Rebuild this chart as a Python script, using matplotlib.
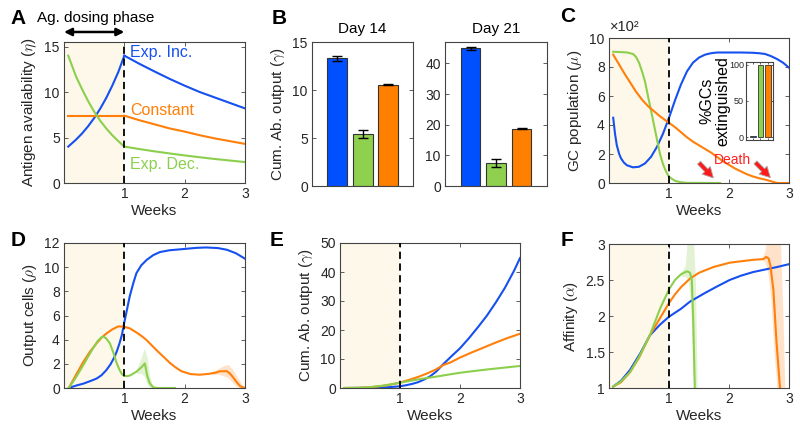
import matplotlib
matplotlib.use("Agg")
import matplotlib.pyplot as plt
import numpy as np

plt.rcParams['font.family'] = ['Liberation Sans', 'DejaVu Sans']
plt.rcParams['mathtext.fontset'] = 'cm'

# ---------------- colours ----------------
BLUE = '#1650f0'
ORANGE = '#ff7f0a'
GREEN = '#8ccf4d'
BAR_BLUE = '#0050ff'
BAR_GREEN = '#8fd14f'
BAR_ORANGE = '#ff8000'
SHADE = '#fdf8ea'
TXT = '#262626'

# ---------------- data: panel A ----------------
tA_pre = [0.07, 0.2, 0.3, 0.4, 0.5, 0.6, 0.7, 0.8, 0.9, 1.0]
incA_pre = [4.0, 4.77, 5.45, 6.24, 7.14, 8.17, 9.35, 10.7, 12.2, 14.0]
constA_pre = [7.4, 7.4, 7.4, 7.4, 7.4, 7.4, 7.4, 7.4, 7.4, 7.4]
decA_pre = [14.0, 11.7, 10.3, 9.0, 7.85, 6.85, 6.0, 5.25, 4.6, 4.0]
tA_post = [1.0, 1.25, 1.5, 1.75, 2.0, 2.25, 2.5, 2.75, 3.0]
incA_post = [14.0, 13.1, 12.26, 11.45, 10.7, 10.0, 9.4, 8.8, 8.2]
constA_post = [7.4, 6.9, 6.45, 6.0, 5.65, 5.25, 4.9, 4.6, 4.3]
decA_post = [4.0, 3.73, 3.48, 3.25, 3.03, 2.83, 2.64, 2.47, 2.3]
labelsA = ['Exp. Inc.', 'Constant', 'Exp. Dec.']

# ---------------- data: panel B ----------------
day14_vals = [13.3, 5.43, 10.57]
day14_err = [0.27, 0.45, 0.1]
day21_vals = [44.9, 7.65, 18.7]
day21_err = [0.5, 1.3, 0.15]

# ---------------- data: panel C ----------------
tC_blue = [0.07, 0.1, 0.13, 0.17, 0.2, 0.25, 0.3, 0.4, 0.5, 0.6, 0.7, 0.8, 0.9, 1.0, 1.1, 1.2,
           1.3, 1.4, 1.5, 1.6, 1.7, 1.8, 2.0, 2.2, 2.4, 2.5, 2.6, 2.7, 2.8, 2.9, 3.0]
C_blue = [4.5, 3.4, 2.6, 2.0, 1.7, 1.4, 1.22, 1.08, 1.12, 1.35, 1.8, 2.5, 3.4, 4.5, 5.7, 6.8,
          7.7, 8.3, 8.65, 8.85, 8.95, 9.0, 9.0, 9.0, 8.98, 8.95, 8.9, 8.75, 8.55, 8.3, 7.95]
tC_green = [0.07, 0.2, 0.3, 0.4, 0.45, 0.5, 0.55, 0.6, 0.65, 0.7, 0.75, 0.8, 0.85, 0.9, 0.95,
            1.0, 1.1, 1.2, 1.3, 1.85]
C_green = [9.05, 9.03, 9.0, 8.9, 8.7, 8.3, 7.7, 7.0, 6.0, 5.0, 4.0, 3.0, 2.0, 1.3, 0.8,
           0.42, 0.15, 0.05, 0.01, 0.0]
tC_orange = [0.07, 0.15, 0.25, 0.35, 0.45, 0.55, 0.65, 0.75, 0.85, 0.95, 1.0, 1.1, 1.2, 1.3,
             1.4, 1.5, 1.6, 1.7, 1.8, 1.9, 2.0, 2.1, 2.2, 2.3, 2.4, 2.5, 2.6, 2.7, 2.8, 3.0]
C_orange = [8.85, 8.3, 7.6, 6.95, 6.3, 5.75, 5.3, 4.95, 4.6, 4.3, 4.15, 3.85, 3.5, 3.15,
            2.85, 2.6, 2.35, 2.1, 1.8, 1.5, 1.25, 1.0, 0.8, 0.6, 0.45, 0.33, 0.24, 0.12, 0.0, 0.0]
inset_vals = [2, 100, 100]
death_tails = [(1.5, 1.4), (2.44, 1.42)]
death_heads = [(1.74, 0.35), (2.69, 0.37)]

# ---------------- data: panel D ----------------
tD_blue = [0.08, 0.2, 0.32, 0.45, 0.54, 0.62, 0.7, 0.77, 0.84, 0.88, 0.92, 0.96, 0.99, 1.04,
           1.09, 1.15, 1.2, 1.28, 1.37, 1.48, 1.59, 1.75, 1.98, 2.2, 2.36, 2.55, 2.7, 2.85, 3.0]
D_blue = [0.0, 0.2, 0.36, 0.6, 0.78, 1.05, 1.47, 1.95, 2.6, 3.1, 3.7, 4.4, 5.2, 6.4,
          7.6, 8.7, 9.5, 10.15, 10.6, 11.0, 11.25, 11.4, 11.5, 11.6, 11.63, 11.58, 11.44, 11.15, 10.7]
tD_orange = [0.08, 0.2, 0.32, 0.43, 0.54, 0.62, 0.7, 0.8, 0.9, 0.99, 1.09, 1.2, 1.3, 1.37,
             1.45, 1.55, 1.65, 1.75, 1.85, 1.95, 2.1, 2.25, 2.4, 2.52, 2.58, 2.7, 2.75, 2.8,
             2.86, 2.92, 3.0]
D_orange = [0.0, 1.1, 2.16, 3.0, 3.7, 4.15, 4.5, 4.85, 5.1, 5.07, 4.94, 4.6, 4.25, 3.96,
            3.55, 3.05, 2.58, 2.1, 1.7, 1.38, 1.15, 1.1, 1.17, 1.28, 1.38, 1.39, 1.2, 0.9,
            0.5, 0.15, 0.0]
tD_orange_band = [2.45, 2.55, 2.65, 2.72, 2.8, 2.9, 2.95]
D_orange_hi = [1.3, 1.6, 1.85, 1.95, 1.5, 0.7, 0.3]
D_orange_lo = [1.1, 1.15, 1.0, 0.85, 0.4, 0.0, 0.0]
tD_green = [0.08, 0.2, 0.32, 0.4, 0.48, 0.56, 0.62, 0.66, 0.7, 0.76, 0.82, 0.87, 0.92, 0.96,
            1.0, 1.05, 1.1, 1.2, 1.28, 1.34, 1.38, 1.42, 1.48, 1.55, 1.84]
D_green = [0.0, 0.9, 1.9, 2.6, 3.27, 3.9, 4.2, 4.24, 4.1, 3.7, 2.9, 2.1, 1.5, 1.15,
           1.0, 0.98, 1.05, 1.35, 1.7, 2.03, 1.0, 0.4, 0.05, 0.0, 0.0]
tD_green_band = [1.2, 1.28, 1.33, 1.38, 1.42, 1.47]
D_green_hi = [1.5, 2.5, 3.3, 2.5, 1.0, 0.2]
D_green_lo = [1.2, 1.2, 1.0, 0.3, 0.0, 0.0]

# ---------------- data: panel E ----------------
tE_blue = [0.07, 0.5, 0.8, 1.0, 1.1, 1.2, 1.3, 1.4, 1.5, 1.6, 1.72, 1.85, 2.0, 2.15, 2.3,
           2.45, 2.6, 2.75, 2.9, 3.0]
E_blue = [0.0, 0.05, 0.25, 0.6, 0.95, 1.4, 2.0, 2.9, 4.0, 5.6, 8.2, 10.8, 13.7, 17.2, 21.0,
          25.0, 29.6, 34.6, 40.4, 44.8]
tE_orange = [0.07, 0.3, 0.5, 0.7, 0.85, 1.0, 1.15, 1.3, 1.45, 1.6, 1.72, 1.85, 2.0, 2.2,
             2.4, 2.6, 2.8, 3.0]
E_orange = [0.0, 0.05, 0.25, 0.7, 1.2, 1.9, 2.8, 3.8, 5.0, 6.4, 7.9, 8.9, 10.5, 12.3,
            14.0, 15.7, 17.3, 18.7]
tE_green = [0.07, 0.3, 0.5, 0.7, 0.85, 1.0, 1.15, 1.3, 1.45, 1.6, 1.8, 2.0, 2.25, 2.5,
            2.75, 3.0]
E_green = [0.0, 0.05, 0.3, 0.75, 1.25, 1.8, 2.4, 2.95, 3.45, 3.9, 4.6, 5.25, 5.9, 6.5,
           7.05, 7.6]

# ---------------- data: panel F ----------------
tF_blue = [0.07, 0.2, 0.35, 0.52, 0.68, 0.85, 1.0, 1.2, 1.35, 1.6, 1.8, 2.01, 2.2, 2.4,
           2.57, 2.8, 3.0]
F_blue = [1.02, 1.1, 1.25, 1.48, 1.73, 1.88, 1.99, 2.1, 2.2, 2.32, 2.41, 2.5, 2.56, 2.61,
          2.64, 2.68, 2.72]
tF_orange = [0.07, 0.2, 0.35, 0.5, 0.68, 0.85, 1.0, 1.1, 1.2, 1.35, 1.5, 1.74, 2.01, 2.2,
             2.4, 2.57, 2.62, 2.66, 2.69, 2.74, 2.79, 2.85]
F_orange = [1.02, 1.08, 1.22, 1.42, 1.73, 1.97, 2.18, 2.3, 2.4, 2.52, 2.6, 2.68, 2.74, 2.76,
            2.78, 2.79, 2.82, 2.8, 2.7, 2.36, 1.66, 1.0]
tF_orange_band = [2.55, 2.6, 2.65, 2.7, 2.75, 2.8, 2.85, 2.9, 2.93]
F_orange_hi = [2.8, 2.9, 3.2, 3.2, 3.2, 3.2, 3.2, 2.0, 1.0]
F_orange_lo = [2.78, 2.75, 2.6, 2.2, 1.5, 1.0, 0.9, 0.9, 1.0]
tF_green = [0.07, 0.2, 0.35, 0.5, 0.68, 0.85, 1.0, 1.1, 1.2, 1.27, 1.31, 1.35, 1.38, 1.405, 1.43]
F_green = [1.02, 1.09, 1.22, 1.43, 1.73, 2.1, 2.37, 2.5, 2.58, 2.61, 2.62, 2.6, 2.5, 1.9, 1.0]
tF_green_band = [1.2, 1.27, 1.32, 1.36, 1.4, 1.44, 1.47]
F_green_hi = [2.6, 2.7, 3.2, 3.2, 3.2, 2.5, 1.0]
F_green_lo = [2.55, 2.55, 2.5, 2.2, 1.2, 1.0, 1.0]

# ---------------- figure ----------------
W, H = 800, 432
fig = plt.figure(figsize=(8, 4.32), dpi=100)


def ax_px(l, t, r, b):
    return fig.add_axes([l / W, 1 - b / H, (r - l) / W, (b - t) / H])


def style(ax, labelsize=10):
    for s in ax.spines.values():
        s.set_color('#444444')
        s.set_linewidth(0.8)
    ax.tick_params(direction='in', top=True, right=True, length=3, width=0.6,
                   color='#444444', labelsize=labelsize, labelcolor=TXT, pad=3)


def time_axes(ax, ylim, yticks, yticklabels=None):
    ax.set_xlim(0, 3)
    ax.set_ylim(*ylim)
    ax.set_xticks([1, 2, 3])
    ax.set_yticks(yticks)
    if yticklabels is not None:
        ax.set_yticklabels(yticklabels)
    ax.axvspan(0, 1, color=SHADE, zorder=0, lw=0)
    ax.axvline(1, color='k', ls=(0, (4, 2.5)), lw=1.3, zorder=5)
    ax.set_xlabel('Weeks', fontsize=11, color=TXT, labelpad=2)
    style(ax)


LW = 1.5

# ---- A ----
axA = ax_px(64, 42, 245, 183)
time_axes(axA, (0, 15.5), [0, 5, 10, 15])
axA.plot(tA_pre, incA_pre, color=BLUE, lw=LW)
axA.plot(tA_post, incA_post, color=BLUE, lw=LW)
axA.plot(tA_pre, constA_pre, color=ORANGE, lw=LW)
axA.plot(tA_post, constA_post, color=ORANGE, lw=LW)
axA.plot(tA_pre, decA_pre, color=GREEN, lw=LW)
axA.plot(tA_post, decA_post, color=GREEN, lw=LW)
axA.text(1.09, 14.35, labelsA[0], color=BLUE, fontsize=11.5, va='center')
axA.text(1.09, 7.93, labelsA[1], color=ORANGE, fontsize=11.5, va='center')
axA.text(1.09, 2.06, labelsA[2], color=GREEN, fontsize=11.5, va='center')
axA.set_ylabel(r'Antigen availability ($\eta$)', fontsize=11, color=TXT)
axA.annotate('', xy=(1, 1.071), xytext=(0, 1.071), xycoords=axA.get_xaxis_transform(),
             textcoords=axA.get_xaxis_transform(), annotation_clip=False,
             arrowprops=dict(arrowstyle='<|-|>', color='k', lw=1.8, mutation_scale=11,
                             shrinkA=0, shrinkB=0))
fig.text(96 / W, 1 - 18 / H, 'Ag. dosing phase', fontsize=11, ha='center', va='center',
         color='k')

# ---- B ----
bar_x = [1, 2, 3]
bar_cols = [BAR_BLUE, BAR_GREEN, BAR_ORANGE]
axB1 = ax_px(312, 42, 413, 186)
axB1.bar(bar_x, day14_vals, width=0.78, color=bar_cols, edgecolor='#333333', lw=0.8,
         yerr=day14_err, capsize=3.5, error_kw=dict(elinewidth=1.0, capthick=1.0, ecolor='k'))
axB1.set_xlim(0, 3.98)
axB1.set_ylim(0, 15)
axB1.set_yticks([0, 5, 10, 15])
axB1.set_xticks(bar_x)
axB1.set_xticklabels([])
style(axB1)
axB1.tick_params(axis='x', length=0)
axB1.set_ylabel(r'Cum. Ab. output ($\gamma$)', fontsize=11, color=TXT)
axB1.text(0.5, 1 + 13 / 144, 'Day 14', transform=axB1.transAxes, ha='center', va='center',
          fontsize=11, color='k')

axB2 = ax_px(445, 42, 547, 186)
axB2.bar(bar_x, day21_vals, width=0.78, color=bar_cols, edgecolor='#333333', lw=0.8,
         yerr=day21_err, capsize=3.5, error_kw=dict(elinewidth=1.0, capthick=1.0, ecolor='k'))
axB2.set_xlim(0, 4.0)
axB2.set_ylim(0, 47)
axB2.set_yticks([0, 10, 20, 30, 40])
axB2.set_xticks(bar_x)
axB2.set_xticklabels([])
style(axB2)
axB2.tick_params(axis='x', length=0)
axB2.text(0.5, 1 + 13 / 144, 'Day 21', transform=axB2.transAxes, ha='center', va='center',
          fontsize=11, color='k')

# ---- C ----
axC = ax_px(609, 38, 789, 183)
time_axes(axC, (0, 10), [0, 2, 4, 6, 8, 10])
axC.plot(tC_blue, C_blue, color=BLUE, lw=LW)
axC.plot(tC_green, C_green, color=GREEN, lw=LW)
axC.plot(tC_orange, C_orange, color=ORANGE, lw=LW)
axC.set_ylabel(r'GC population ($\mu$)', fontsize=11, color=TXT)
axC.text(0.005, 1.076, '×10²', transform=axC.transAxes, fontsize=10.5, ha='left',
         va='center', color=TXT)
for (tx, ty), (hx, hy) in zip(death_tails, death_heads):
    axC.annotate('', xy=(hx, hy), xytext=(tx, ty),
                 arrowprops=dict(arrowstyle='simple,head_width=0.8,head_length=0.75,tail_width=0.3',
                                 fc='#ff1a1a', ec='#a8a8a8', lw=0.6, shrinkA=0, shrinkB=0),
                 zorder=6)
axC.text(2.06, 1.62, 'Death', color='#ff2020', fontsize=10, ha='center', va='center')

axI = ax_px(746, 62, 773, 140)
axI.bar(bar_x, inset_vals, width=0.75, color=bar_cols, edgecolor='#333333', lw=0.6)
axI.set_xlim(0.1, 3.65)
axI.set_ylim(-4, 104)
axI.set_yticks([0, 50, 100])
axI.set_xticks(bar_x)
axI.set_xticklabels([])
style(axI, labelsize=6.5)
axI.tick_params(length=1.5, pad=1.5)
fig.text(715 / W, 1 - 101 / H, '%GCs\nextinguished', rotation=90, fontsize=11.5,
         ha='center', va='center', multialignment='center', color='k', linespacing=1.05)

# ---- D ----
axD = ax_px(64, 243, 245, 388)
time_axes(axD, (0, 12), [0, 2, 4, 6, 8, 10, 12])
axD.fill_between(tD_orange_band, D_orange_lo, D_orange_hi, color=ORANGE, alpha=0.22, lw=0)
axD.fill_between(tD_green_band, D_green_lo, D_green_hi, color=GREEN, alpha=0.25, lw=0)
axD.plot(tD_blue, D_blue, color=BLUE, lw=LW)
axD.plot(tD_orange, D_orange, color=ORANGE, lw=LW)
axD.plot(tD_green, D_green, color=GREEN, lw=LW)
axD.set_ylabel(r'Output cells ($\rho$)', fontsize=11, color=TXT)

# ---- E ----
axE = ax_px(340, 243, 520, 388)
time_axes(axE, (0, 50), [0, 10, 20, 30, 40, 50])
axE.plot(tE_blue, E_blue, color=BLUE, lw=LW)
axE.plot(tE_orange, E_orange, color=ORANGE, lw=LW)
axE.plot(tE_green, E_green, color=GREEN, lw=LW)
axE.set_ylabel(r'Cum. Ab. output ($\gamma$)', fontsize=11, color=TXT)

# ---- F ----
axF = ax_px(609, 244, 789, 388)
time_axes(axF, (1, 3), [1, 1.5, 2, 2.5, 3], ['1', '1.5', '2', '2.5', '3'])
axF.fill_between(tF_orange_band, F_orange_lo, F_orange_hi, color=ORANGE, alpha=0.22, lw=0)
axF.fill_between(tF_green_band, F_green_lo, F_green_hi, color=GREEN, alpha=0.25, lw=0)
axF.plot(tF_blue, F_blue, color=BLUE, lw=LW)
axF.plot(tF_orange, F_orange, color=ORANGE, lw=LW)
axF.plot(tF_green, F_green, color=GREEN, lw=LW)
axF.set_ylabel(r'Affinity ($\alpha$)', fontsize=11, color=TXT)

# ---- panel letters ----
for letter, (px, py) in zip('ABCDEF', [(18, 19), (279, 19), (568, 17), (18, 241), (277, 241), (567, 241)]):
    fig.text(px / W, 1 - py / H, letter, fontsize=15, fontweight='bold', ha='center',
             va='center', color='k')

fig.savefig('out.png', dpi=100)
